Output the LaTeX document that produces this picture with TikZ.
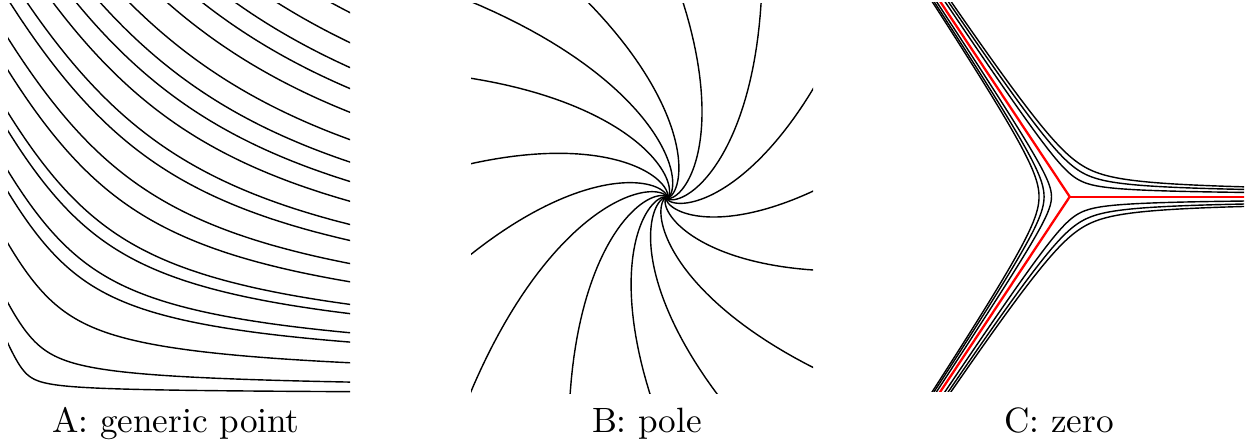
\documentclass[tikz,border=0pt]{standalone}
\tikzset{
  traj/.style={black, line width=0.4pt},
  crit/.style={red, line width=0.65pt},
  lbl/.style={anchor=base, inner sep=0pt},
  declare function={
    rr(\p,\q)=exp(2/3*(ln(\p)+ln(cosh(\q))));
    th(\q)=2/3*atan2(1,sinh(\q));
  }
}
\begin{document}
\begin{tikzpicture}[x=0.01cm,y=-0.01cm]
\useasboundingbox (0,0) rectangle (1249,444);

% ---------- A: generic point ----------
\begin{scope}
\clip (8,3) rectangle (350,392);
\foreach \xa/\ya/\xb/\yb in {
  333.3/3.3/350/12.7, 280/3.3/350/43.3, 238.3/3.3/350/68.3, 205/3.3/350/89.3,
  170/3.3/350/113.3, 133.3/3.3/350/141.7, 105/3.3/350/165, 81.7/3.3/350/185,
  58.3/3.3/350/205, 33.3/3.3/350/229.3, 16.7/3.3/350/246,
  8.3/30/350/268.3, 8.3/63.3/350/285.7, 8.3/108.3/350/306.7, 8.3/128.3/350/315,
  8.3/170/350/333.3, 8.3/191.7/350/342.3, 8.3/246.7/350/361.7, 8.3/310/350/380,
  8.3/351.7/350/389.3}{
  \pgfmathsetmacro\ua{\xa-20}
  \pgfmathsetmacro\va{(395-\ya)/1.5}
  \pgfmathsetmacro\ra{100*sqrt((\ua/100)^2+(\va/100)^2)}
  \pgfmathsetmacro\ta{atan2(\va,\ua)}
  \pgfmathsetmacro\ca{exp(1.5*ln(\ra))*sin(1.5*\ta)}
  \pgfmathsetmacro\ub{\xb-20}
  \pgfmathsetmacro\vb{(395-\yb)/1.5}
  \pgfmathsetmacro\rb{100*sqrt((\ub/100)^2+(\vb/100)^2)}
  \pgfmathsetmacro\tb{atan2(\vb,\ub)}
  \pgfmathsetmacro\cb{exp(1.5*ln(\rb))*sin(1.5*\tb)}
  \pgfmathsetmacro\cA{exp((ln(\ca)+ln(\cb))/2)}
  \pgfmathsetmacro\yy{11180/\cA}
  \pgfmathsetmacro\tm{ln(\yy+sqrt(\yy-1)*sqrt(\yy+1))}
  \draw[traj] plot[domain=-\tm:\tm, samples=160, variable=\t]
    ({20+rr(\cA,\t)*cos(th(\t))},{395-1.5*rr(\cA,\t)*sin(th(\t))});
}
\end{scope}

% ---------- B: pole ----------
\coordinate (P) at (666.7,197.7);
\begin{scope}
\clip (471,3) rectangle (813,393);
\foreach \a in {22.5,46.0,69.4,94.4,111.0,129.1,154.0,179.4,200.9,225.4,249.2,267.8,291.8,322.2,353.6}{
  \draw[traj] plot[domain=-5.5:1.3, samples=130, variable=\t]
    ({666.7+100*exp(\t)*cos(\a+23.5*\t)},{197.7-100*exp(\t)*sin(\a+23.5*\t)});
}
\end{scope}

% ---------- C: zero ----------
\coordinate (Z) at (1069.7,196.7);
\begin{scope}
\clip (880,2) rectangle (1244,391);
\foreach \rot/\cv in {0/98,0/166,0/225,120/78,120/130,120/170,240/98,240/166,240/222}{
  \pgfmathsetmacro\yy{6548/\cv}
  \pgfmathsetmacro\tm{ln(\yy+sqrt(\yy-1)*sqrt(\yy+1))}
  \draw[traj] plot[domain=-\tm:\tm, samples=150, variable=\t]
    ({1069.7+rr(\cv,\t)*cos(th(\t)+\rot)},{196.7-0.87*rr(\cv,\t)*sin(th(\t)+\rot)});
}
\draw[crit] (Z) -- ++(200,0);
\draw[crit] (Z) -- ++(-150,-226);
\draw[crit] (Z) -- ++(-150,226);
\end{scope}

% ---------- labels ----------
\node[lbl] (labA) at (176,432) {A: generic point};
\node[lbl] (labB) at (647,432) {B: pole};
\node[lbl] (labC) at (1059,432) {C: zero};
\end{tikzpicture}
\end{document}
